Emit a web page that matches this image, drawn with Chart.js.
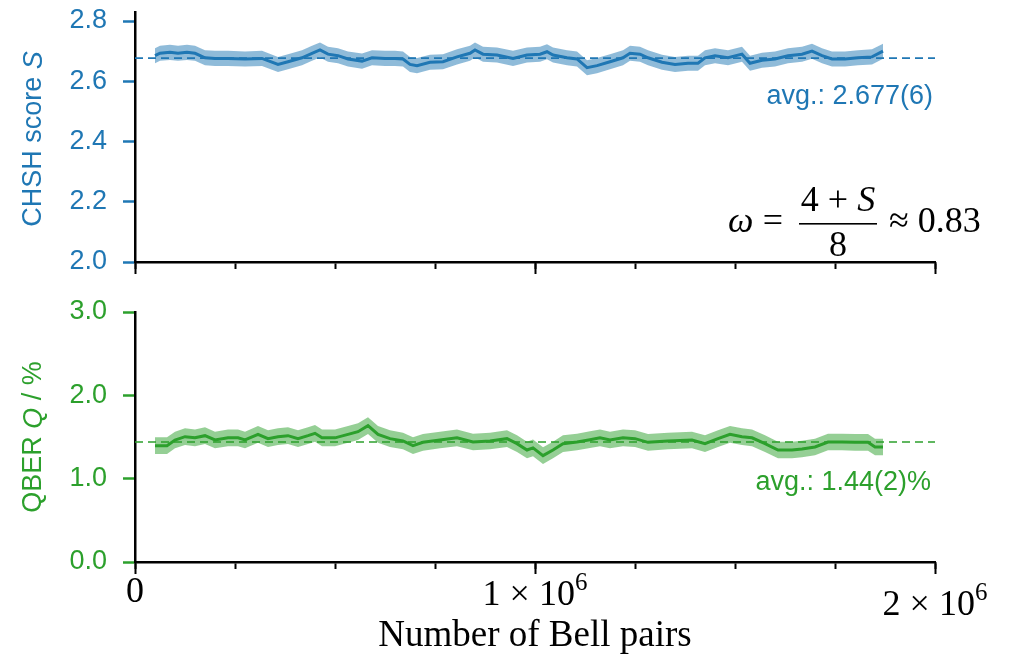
<!DOCTYPE html>
<html>
<head>
<meta charset="utf-8">
<script src="https://cdn.jsdelivr.net/npm/chart.js@4.4.1/dist/chart.umd.min.js"></script>
<style>
  body { margin: 0; background: #fff; }
  #wrap { position: relative; width: 1011px; height: 658px; }
  #wrap canvas { position: absolute; left: 0; }
</style>
</head>
<body>
<div id="wrap">
  <canvas id="chsh" width="1011" height="300" style="top:0"></canvas>
  <canvas id="qber" width="1011" height="358" style="top:300px"></canvas>
</div>
<script>
// values (running CHSH score and QBER vs number of Bell pairs)
const sPairs = [50000, 62500, 87500, 107500, 130000, 150000, 175000, 200000, 232500, 275000,
  317500, 357500, 382500, 417500, 442500, 462500, 482500, 507500, 532500, 567500,
  592500, 625000, 650000, 670000, 687500, 705000, 737500, 770000, 805000, 837500,
  850000, 870000, 905000, 945000, 980000, 1012500, 1030000, 1045000, 1080000, 1105000,
  1130000, 1155000, 1187500, 1220000, 1237500, 1262500, 1282500, 1317500, 1350000, 1382500,
  1407500, 1425000, 1450000, 1482500, 1517500, 1537500, 1567500, 1600000, 1632500, 1667500,
  1692500, 1717500, 1742500, 1775000, 1807500, 1842500, 1870000];
const sValues = [2.685, 2.693, 2.696, 2.693, 2.696, 2.693, 2.678, 2.676, 2.676, 2.674,
  2.676, 2.656, 2.665, 2.678, 2.693, 2.704, 2.690, 2.685, 2.674, 2.667,
  2.678, 2.676, 2.676, 2.674, 2.656, 2.652, 2.663, 2.665, 2.681, 2.693,
  2.704, 2.690, 2.687, 2.676, 2.687, 2.690, 2.698, 2.687, 2.678, 2.674,
  2.645, 2.652, 2.665, 2.678, 2.693, 2.690, 2.678, 2.663, 2.656, 2.660,
  2.660, 2.678, 2.685, 2.678, 2.690, 2.660, 2.670, 2.674, 2.685, 2.690,
  2.700, 2.685, 2.674, 2.674, 2.678, 2.681, 2.700];
const sErr = 0.025;
const sAvg = 2.677;

const qPairs = [50000, 80000, 100000, 125000, 150000, 175000, 200000, 232500, 257500, 275000,
  307500, 332500, 357500, 382500, 407500, 432500, 450000, 467500, 500000, 532500,
  557500, 582500, 607500, 637500, 670000, 695000, 720000, 762500, 805000, 845000,
  887500, 930000, 955000, 980000, 995000, 1020000, 1045000, 1070000, 1105000, 1137500,
  1162500, 1187500, 1220000, 1250000, 1282500, 1332500, 1392500, 1425000, 1457500, 1487500,
  1517500, 1542500, 1575000, 1607500, 1642500, 1667500, 1700000, 1732500, 1767500, 1800000,
  1832500, 1850000, 1870000];
const qValues = [1.396, 1.396, 1.464, 1.504, 1.49, 1.516, 1.464, 1.49, 1.49, 1.464,
  1.532, 1.48, 1.504, 1.516, 1.48, 1.516, 1.544, 1.49, 1.49, 1.532,
  1.564, 1.636, 1.532, 1.48, 1.452, 1.396, 1.436, 1.464, 1.49, 1.44,
  1.452, 1.48, 1.42, 1.344, 1.37, 1.276, 1.344, 1.42, 1.44, 1.468,
  1.49, 1.464, 1.49, 1.48, 1.436, 1.452, 1.464, 1.42, 1.48, 1.532,
  1.504, 1.49, 1.42, 1.344, 1.344, 1.356, 1.38, 1.44, 1.44, 1.436,
  1.436, 1.38, 1.38];
const qErr = 0.10;
const qAvg = 1.44;

const sTicks = [2.0, 2.2, 2.4, 2.6, 2.8];
const qTicks = [0, 1, 2, 3];
const xMinorTicks = [0, 250000, 500000, 750000, 1000000, 1250000, 1500000, 1750000, 2000000];
const xMajorTicks = [0, 1000000, 2000000];
const xTickLabels = [['0', ''], ['1 × 10', '6'], ['2 × 10', '6']];

const BLUE = '#1f77b4';
const GREEN = '#2ca02c';
const SANS = '"Liberation Sans", Arial, sans-serif';
const SERIF = '"Liberation Serif", serif';

function pts(xs, ys, d) {
  return xs.map((x, i) => ({ x: x, y: ys[i] + d }));
}

function fixTicks(list) {
  return function(scale) { scale.ticks = list.map(v => ({ value: v })); };
}

// draw a run of text pieces (each with own font), centred on cx
function drawRun(ctx, parts, cx, cy, rot, color, baseline) {
  ctx.save();
  ctx.translate(cx, cy);
  ctx.rotate(rot);
  ctx.fillStyle = color;
  ctx.textBaseline = baseline;
  ctx.textAlign = 'left';
  let total = 0;
  parts.forEach(p => { ctx.font = p[1]; total += ctx.measureText(p[0]).width; });
  let x = -total / 2;
  parts.forEach(p => {
    ctx.font = p[1];
    ctx.fillText(p[0], x, p[2] || 0);
    x += ctx.measureText(p[0]).width;
  });
  ctx.restore();
}

function yAxis(color, ticks, min, max) {
  return {
    min: min,
    max: max,
    afterBuildTicks: fixTicks(ticks),
    afterFit(scale) { scale.width = 135; scale.paddingTop = 0; scale.paddingBottom = 0; },
    grid: { drawOnChartArea: false, tickLength: 12, tickWidth: 2.5, tickColor: color },
    border: { color: '#000', width: 2.5 },
    ticks: { color: color, font: { family: SANS, size: 27 }, padding: 16, callback: v => v.toFixed(1) }
  };
}

function xAxes(height, title) {
  return {
    x: {
      type: 'linear', position: 'bottom', min: 0, max: 2000000, weight: 0,
      afterBuildTicks: fixTicks(xMinorTicks),
      afterFit(s) { s.height = 0; s.paddingLeft = 0; s.paddingRight = 0; },
      grid: { drawOnChartArea: false, tickLength: 7, tickWidth: 2, tickColor: '#000' },
      border: { color: '#000', width: 2.5 },
      ticks: { display: false }
    },
    xMajor: {
      type: 'linear', position: 'bottom', min: 0, max: 2000000, weight: 1,
      afterBuildTicks: fixTicks(xMajorTicks),
      afterFit(s) { s.height = height; s.paddingLeft = 0; s.paddingRight = 0; },
      grid: { drawOnChartArea: false, tickLength: 12, tickWidth: 2, tickColor: '#000' },
      border: { display: false },
      ticks: { display: false },
      title: {
        display: !!title, text: title || '', color: '#000',
        font: { family: SERIF, size: 37 }, padding: { top: 0, bottom: 0 }
      }
    }
  };
}

function seriesSets(xs, ys, err, avg, color, band) {
  return [
    { data: pts(xs, ys, 0), borderColor: color, borderWidth: 3, pointRadius: 0, fill: false },
    { data: [{ x: 0, y: avg }, { x: 2000000, y: avg }], borderColor: color, borderWidth: 1.6,
      borderDash: [8, 5], pointRadius: 0, fill: false },
    { data: pts(xs, ys, err), borderColor: 'rgba(0,0,0,0)', borderWidth: 0, pointRadius: 0,
      backgroundColor: band, fill: '+1' },
    { data: pts(xs, ys, -err), borderColor: 'rgba(0,0,0,0)', borderWidth: 0, pointRadius: 0, fill: false }
  ];
}

const common = {
  responsive: false,
  animation: false,
  events: [],
  plugins: { legend: { display: false }, tooltip: { enabled: false } }
};

// top panel: CHSH score
new Chart(document.getElementById('chsh'), {
  type: 'line',
  data: { datasets: seriesSets(sPairs, sValues, sErr, sAvg, BLUE, 'rgba(31,119,180,0.5)') },
  options: Object.assign({}, common, {
    layout: { padding: { top: 12, right: 76, left: 0, bottom: 0 } },
    scales: Object.assign({ y: yAxis(BLUE, sTicks, 2.0, 2.83) }, xAxes(38, null))
  }),
  plugins: [{
    id: 'chshText',
    afterDraw(chart) {
      const ctx = chart.ctx;
      drawRun(ctx, [['CHSH score ', '27px ' + SANS], ['S', 'italic 27px ' + SANS]],
        34, 139, -Math.PI / 2, BLUE, 'middle');
      ctx.save();
      ctx.fillStyle = BLUE;
      ctx.font = '27px ' + SANS;
      ctx.textAlign = 'right';
      ctx.textBaseline = 'middle';
      ctx.fillText('avg.: 2.677(6)', 933, 97);
      // ω = (4+S)/8 ≈ 0.83
      ctx.fillStyle = '#000';
      ctx.textBaseline = 'alphabetic';
      ctx.textAlign = 'left';
      ctx.font = 'italic 36px ' + SERIF;
      ctx.fillText('ω', 728, 232);
      ctx.font = '36px ' + SERIF;
      ctx.textAlign = 'center';
      ctx.fillText('=', 773, 232);
      ctx.fillText('8', 838, 256);
      ctx.fillRect(799, 223, 78, 1.6);
      ctx.textAlign = 'left';
      ctx.fillText('≈ 0.83', 889, 232);
      ctx.restore();
      drawRun(ctx, [['4 + ', '36px ' + SERIF], ['S', 'italic 36px ' + SERIF]],
        838, 211, 0, '#000', 'alphabetic');
    }
  }]
});

// bottom panel: QBER
new Chart(document.getElementById('qber'), {
  type: 'line',
  data: { datasets: seriesSets(qPairs, qValues, qErr, qAvg, GREEN, 'rgba(44,160,44,0.5)') },
  options: Object.assign({}, common, {
    layout: { padding: { top: 12, right: 76, left: 0, bottom: 0 } },
    scales: Object.assign({ y: yAxis(GREEN, qTicks, 0, 3) }, xAxes(96, 'Number of Bell pairs'))
  }),
  plugins: [{
    id: 'qberText',
    afterDraw(chart) {
      const ctx = chart.ctx;
      drawRun(ctx, [['QBER ', '27px ' + SANS], ['Q', 'italic 27px ' + SANS], [' / %', '27px ' + SANS]],
        34, 137, -Math.PI / 2, GREEN, 'middle');
      ctx.save();
      ctx.fillStyle = GREEN;
      ctx.font = '27px ' + SANS;
      ctx.textAlign = 'right';
      ctx.textBaseline = 'middle';
      ctx.fillText('avg.: 1.44(2)%', 931, 183);
      ctx.restore();
      // x tick labels with superscript exponent
      const xs = chart.scales.xMajor;
      const baseY = [302, 305, 315];
      xMajorTicks.forEach((v, i) => {
        const lab = xTickLabels[i];
        drawRun(ctx, [[lab[0], '36px ' + SERIF], [lab[1], '25px ' + SERIF, -15]],
          xs.getPixelForValue(v), baseY[i], 0, '#000', 'alphabetic');
      });
    }
  }]
});
</script>
</body>
</html>
